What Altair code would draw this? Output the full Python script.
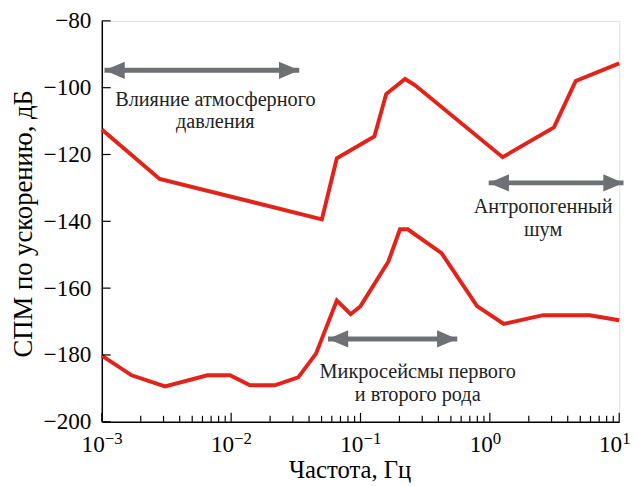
import altair as alt
import pandas as pd

# NHNM-like upper curve
upper_f = [0.001, 0.0028, 0.0503, 0.0656, 0.128, 0.158, 0.221, 0.263, 1.256, 3.13, 4.61, 10]
upper_db = [-112.5, -127.3, -139.4, -121.1, -114.6, -101.9, -97.4, -99.2, -120.8, -111.9, -98.0, -92.7]

# NLNM-like lower curve
lower_f = [0.001, 0.0017, 0.00308, 0.00656, 0.0098, 0.01397, 0.0217, 0.033, 0.0453, 0.0656,
           0.084, 0.1, 0.164, 0.202, 0.232, 0.423, 0.796, 1.28, 2.58, 5.9, 10]
lower_db = [-180.2, -186.1, -189.4, -186.1, -186.1, -189.1, -189.1, -186.7, -179.6, -163.7,
            -167.8, -165.4, -152.1, -142.4, -142.4, -149.5, -165.4, -170.7, -168.1, -168.1, -169.6]

# double arrows
arrow_y = [-94.8, -128.5, -175.2]
arrow_f1 = [0.00105, 0.98, 0.056]
arrow_f2 = [0.0336, 10.8, 0.56]

# annotation lines
note_text = ["Влияние атмосферного", "давления", "Антропогенный", "шум",
             "Микросейсмы первого", "и второго рода"]
note_f = [0.00755, 0.00755, 2.58, 2.58, 0.277, 0.277]
note_db = [-105.4, -112.0, -137.6, -144.3, -187.0, -193.7]

major_f = [0.001, 0.01, 0.1, 1, 10]
major_exp = ["−3", "−2", "−1", "0", "1"]
y_ticks = [-80, -100, -120, -140, -160, -180, -200]

minor_f = [k * m for m in [0.001, 0.01, 0.1, 1] for k in range(2, 10)]

W, H = 524, 406
FONT = "Liberation Serif"
RED = "#e2231a"
GRAY = "#6f7073"

xs = alt.Scale(type="log", domain=[0.001, 10])
ys = alt.Scale(domain=[-200, -80])

curves = pd.DataFrame({
    "f": upper_f + lower_f,
    "db": upper_db + lower_db,
    "curve": ["upper"] * len(upper_f) + ["lower"] * len(lower_f),
})

base = alt.Chart(curves)

lines = base.mark_line(color=RED, strokeWidth=4, strokeJoin="miter", clip=False).encode(
    x=alt.X("f:Q", scale=xs, axis=alt.Axis(title="Частота, Гц", labels=False, ticks=False,
                                           grid=False, domainColor="black", domainWidth=1.5,
                                           titleFont=FONT, titleFontSize=25, titleFontWeight="normal",
                                           titleColor="black", titleX=251, titleY=56,
                                           titleBaseline="alphabetic", titleAlign="center")),
    y=alt.Y("db:Q", scale=ys, axis=alt.Axis(title="СПМ по ускорению, дБ", values=y_ticks,
                                            ticks=False, grid=False, domainColor="black",
                                            domainWidth=1.5, labelFont=FONT, labelFontSize=23.5,
                                            labelColor="black", labelPadding=11,
                                            titleFont=FONT, titleFontSize=27,
                                            titleFontWeight="normal", titleColor="black",
                                            titleX=-71, titleY=205, titleAngle=-90,
                                            titleBaseline="alphabetic", titleAlign="center")),
    detail="curve:N",
)

arrows_df = pd.DataFrame({"f1": arrow_f1, "f2": arrow_f2, "db": arrow_y})
shafts = alt.Chart(arrows_df).mark_rule(color=GRAY, strokeWidth=5).encode(
    x=alt.X("f1:Q", scale=xs), x2="f2:Q", y=alt.Y("db:Q", scale=ys))
heads_l = alt.Chart(arrows_df).mark_point(
    shape="M0,0L2,-0.85L2,0.85Z", size=420, filled=True, color=GRAY, opacity=1).encode(
    x=alt.X("f1:Q", scale=xs), y=alt.Y("db:Q", scale=ys))
heads_r = alt.Chart(arrows_df).mark_point(
    shape="M0,0L-2,-0.85L-2,0.85Z", size=420, filled=True, color=GRAY, opacity=1).encode(
    x=alt.X("f2:Q", scale=xs), y=alt.Y("db:Q", scale=ys))

notes_df = pd.DataFrame({"t": note_text, "f": note_f, "db": note_db})
notes = alt.Chart(notes_df).mark_text(font=FONT, fontSize=20.5, color="#222222",
                                      align="center", baseline="alphabetic").encode(
    x=alt.X("f:Q", scale=xs), y=alt.Y("db:Q", scale=ys), text="t:N")

minor_df = pd.DataFrame({"f": minor_f})
minor_ticks = alt.Chart(minor_df).mark_rule(color="black", strokeWidth=1.2).encode(
    x=alt.X("f:Q", scale=xs), y=alt.value(H), y2=alt.value(H - 6))
major_df = pd.DataFrame({"f": major_f, "e": major_exp, "b": ["10"] * 5})
major_ticks = alt.Chart(major_df).mark_rule(color="black", strokeWidth=1.2).encode(
    x=alt.X("f:Q", scale=xs), y=alt.value(H), y2=alt.value(H - 9))
ytick_df = pd.DataFrame({"db": y_ticks})
y_tick_marks = alt.Chart(ytick_df).mark_rule(color="black", strokeWidth=1.2).encode(
    y=alt.Y("db:Q", scale=ys), x=alt.value(0), x2=alt.value(9))

lab_base = alt.Chart(major_df).mark_text(font=FONT, fontSize=23.5, color="black",
                                         align="right", baseline="alphabetic", dx=3).encode(
    x=alt.X("f:Q", scale=xs), y=alt.value(H + 31), text="b:N")
lab_exp = alt.Chart(major_df).mark_text(font=FONT, fontSize=17, color="black",
                                        align="left", baseline="alphabetic", dx=3).encode(
    x=alt.X("f:Q", scale=xs), y=alt.value(H + 23), text="e:N")

chart = alt.layer(
    lines, shafts, heads_l, heads_r, notes, minor_ticks, major_ticks, y_tick_marks,
    lab_base, lab_exp
).properties(
    width=W, height=H,
    autosize=alt.AutoSizeParams(type="none"),
    padding={"left": 95, "top": 10, "right": 16, "bottom": 60},
).configure_view(stroke=None).configure(background="white")

chart.save("out.html", embed_options={"renderer": "svg", "actions": False})
